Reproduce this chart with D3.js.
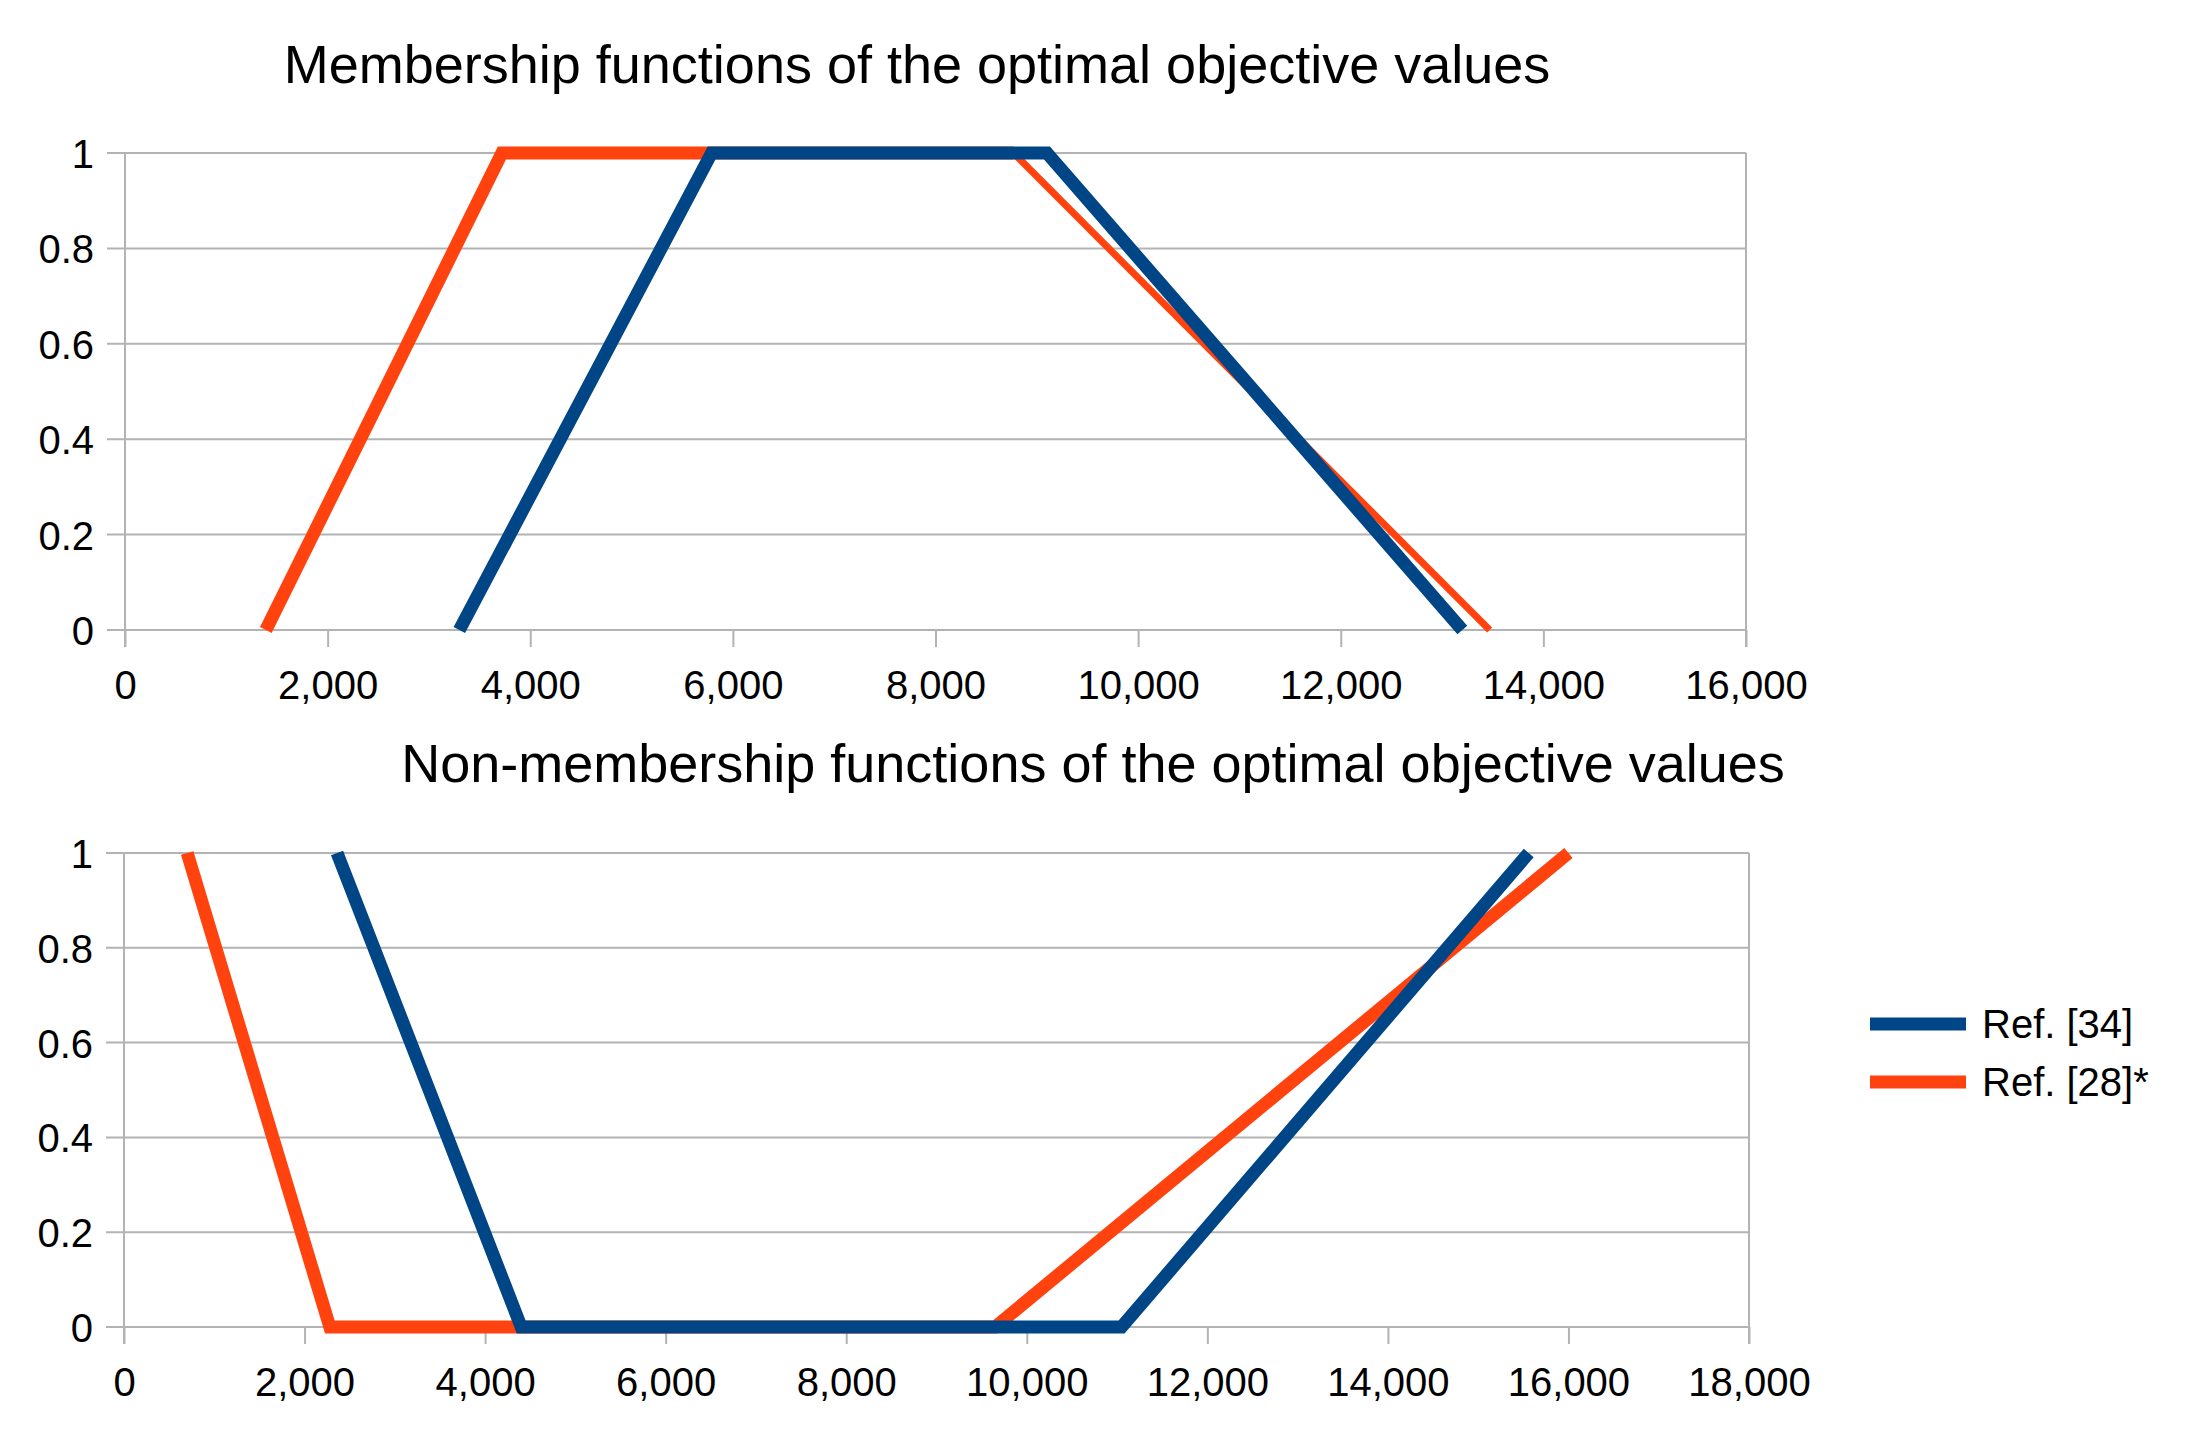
<!DOCTYPE html>
<html><head><meta charset="utf-8">
<script src="https://cdn.jsdelivr.net/npm/d3@7"></script>
<style>body{margin:0;background:#fff} text{font-family:"Liberation Sans",Arial,sans-serif;fill:#000}</style>
</head><body><svg id="c" width="2188" height="1433"></svg>
<script>
// ---- data ----
const seriesNames = ["Ref. [34]", "Ref. [28]*"];
const titles = ["Membership functions of the optimal objective values",
                "Non-membership functions of the optimal objective values"];
const memRef34X = [3300, 5790, 9100, 13200];
const memRef34Y = [0, 1, 1, 0];
const memRef28X = [1390, 3720, 8770, 13470];
const memRef28Y = [0, 1, 1, 0];
const nonRef34X = [2360, 4400, 11050, 15560];
const nonRef34Y = [1, 0, 0, 1];
const nonRef28X = [700, 2280, 9650, 16000];
const nonRef28Y = [1, 0, 0, 1];
const yTicks = [0, 0.2, 0.4, 0.6, 0.8, 1];
const memXTicks = [0, 2000, 4000, 6000, 8000, 10000, 12000, 14000, 16000];
const nonXTicks = [0, 2000, 4000, 6000, 8000, 10000, 12000, 14000, 16000, 18000];

// ---- style ----
const BLUE = "#004586", ORANGE = "#ff420e", GRID = "#b3b3b3";
const LW = 13, LW_THIN = 7, TICK = 18;
const svg = d3.select("#c");
svg.append("rect").attr("width", 2188).attr("height", 1433).attr("fill", "#fff");

const zip = (xs, ys) => xs.map((x, i) => [x, ys[i]]);

function panel(opt) {
  const x = d3.scaleLinear().domain([0, opt.xMax]).range(opt.xr);
  const y = d3.scaleLinear().domain([0, 1]).range(opt.yr);
  const g = svg.append("g");
  g.append("text").attr("x", opt.titleX).attr("y", opt.titleY)
    .attr("text-anchor", "middle").style("font-size", "54px").text(opt.title);
  g.selectAll(".grid").data(yTicks).join("line")
    .attr("x1", opt.xr[0] - TICK).attr("x2", opt.xr[1])
    .attr("y1", d => y(d)).attr("y2", d => y(d))
    .attr("stroke", GRID).attr("stroke-width", 2);
  [opt.xr[0], opt.xr[1]].forEach(px => {
    g.append("line").attr("x1", px).attr("x2", px)
      .attr("y1", opt.yr[1]).attr("y2", opt.yr[0] + TICK - 1)
      .attr("stroke", GRID).attr("stroke-width", 2);
  });
  const ya = g.append("g").attr("transform", `translate(${opt.xr[0]},0)`)
    .call(d3.axisLeft(y).tickValues(yTicks).tickSize(0).tickPadding(31).tickFormat(d => String(d)));
  ya.select(".domain").remove();
  ya.selectAll("text").attr("dy", "0.36em").style("font-size", "40px").attr("fill", "#000");
  const xa = g.append("g").attr("transform", `translate(0,${opt.yr[0]})`)
    .call(d3.axisBottom(x).tickValues(opt.xTicks).tickSize(TICK - 1).tickPadding(24).tickFormat(d3.format(",")));
  xa.select(".domain").remove();
  xa.selectAll("line").attr("stroke", GRID).attr("stroke-width", 2);
  xa.selectAll("text").style("font-size", "40px").attr("fill", "#000");
  const line = d3.line().x(d => x(d[0])).y(d => y(d[1]));
  return { g, line };
}

// top panel
const p1 = panel({ xMax: 16000, xr: [125, 1746], yr: [630, 153], xTicks: memXTicks,
  title: titles[0], titleX: 917, titleY: 83 });
const m28 = zip(memRef28X, memRef28Y), m34 = zip(memRef34X, memRef34Y);
p1.g.append("path").attr("d", p1.line(m28.slice(0, 3))).attr("fill", "none")
  .attr("stroke", ORANGE).attr("stroke-width", LW);
p1.g.append("path").attr("d", p1.line(m28.slice(2))).attr("fill", "none")
  .attr("stroke", ORANGE).attr("stroke-width", LW_THIN);
p1.g.append("path").attr("d", p1.line(m34)).attr("fill", "none")
  .attr("stroke", BLUE).attr("stroke-width", LW);

// bottom panel
const p2 = panel({ xMax: 18000, xr: [124, 1749], yr: [1327, 853], xTicks: nonXTicks,
  title: titles[1], titleX: 1093, titleY: 782 });
p2.g.append("path").attr("d", p2.line(zip(nonRef28X, nonRef28Y))).attr("fill", "none")
  .attr("stroke", ORANGE).attr("stroke-width", LW);
p2.g.append("path").attr("d", p2.line(zip(nonRef34X, nonRef34Y))).attr("fill", "none")
  .attr("stroke", BLUE).attr("stroke-width", LW);

// legend
const lg = svg.append("g");
[BLUE, ORANGE].forEach((c, i) => {
  const cy = 1024 + i * 58;
  lg.append("line").attr("x1", 1870).attr("x2", 1966).attr("y1", cy).attr("y2", cy)
    .attr("stroke", c).attr("stroke-width", LW);
  lg.append("text").attr("x", 1982).attr("y", cy + 14).style("font-size", "40px").text(seriesNames[i]);
});
</script></body></html>
